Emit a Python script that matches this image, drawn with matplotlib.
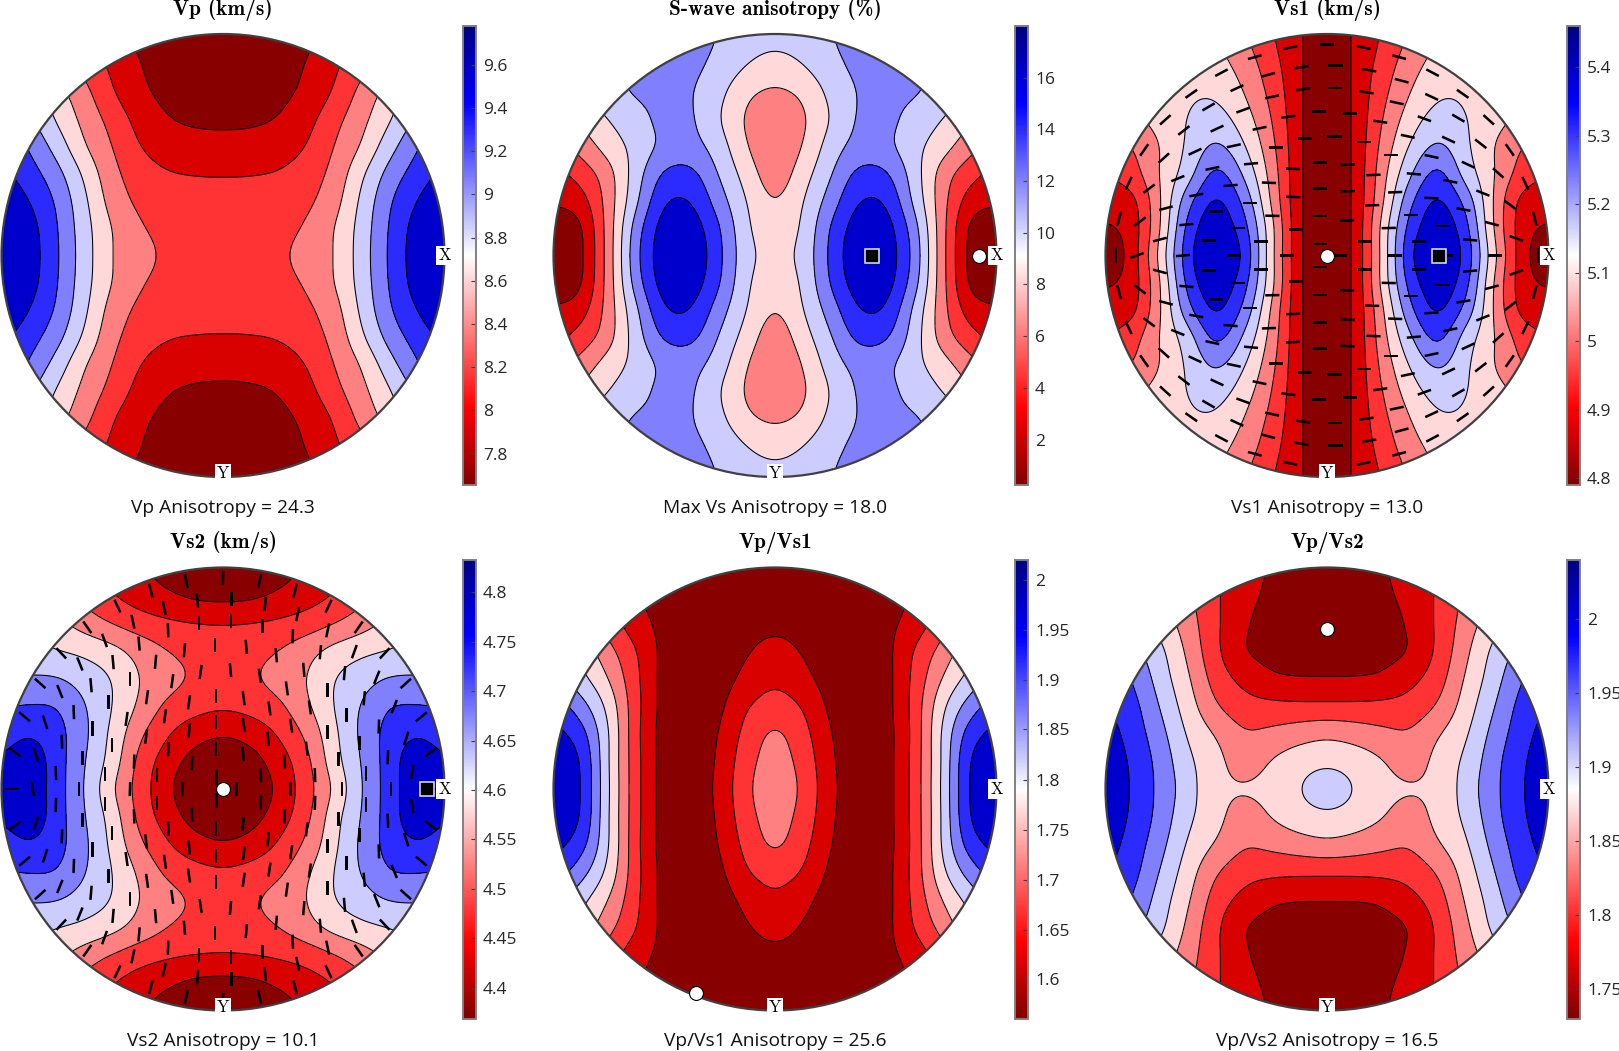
#!/usr/bin/env python3
# Seismic velocity pole figures, six stereonets with colorbars

import matplotlib
matplotlib.use('Agg')
import matplotlib.pyplot as plt
import numpy as np
from matplotlib.cm import ScalarMappable
from matplotlib.colors import LinearSegmentedColormap, Normalize
from matplotlib.patches import Circle

titles = ['Vp (km/s)', 'S-wave anisotropy (%)', 'Vs1 (km/s)',
          'Vs2 (km/s)', 'Vp/Vs1', 'Vp/Vs2']
notes = ['Vp Anisotropy = 24.3', 'Max Vs Anisotropy = 18.0', 'Vs1 Anisotropy = 13.0',
         'Vs2 Anisotropy = 10.1', 'Vp/Vs1 Anisotropy = 25.6', 'Vp/Vs2 Anisotropy = 16.5']

vmin = [7.655, 0.24, 4.79, 4.369, 1.561, 1.73]
vmax = [9.78, 18.0, 5.46, 4.833, 2.02, 2.04]
cbar_ticks = [[7.8, 8, 8.2, 8.4, 8.6, 8.8, 9, 9.2, 9.4, 9.6],
              [2, 4, 6, 8, 10, 12, 14, 16],
              [4.8, 4.9, 5, 5.1, 5.2, 5.3, 5.4],
              [4.4, 4.45, 4.5, 4.55, 4.6, 4.65, 4.7, 4.75, 4.8],
              [1.6, 1.65, 1.7, 1.75, 1.8, 1.85, 1.9, 1.95, 2],
              [1.75, 1.8, 1.85, 1.9, 1.95, 2]]

# markers (x, y in units of the net radius)
min_marks = [None, (0.92, 0), (0, 0), (0, 0), (-0.355, -0.92), (0, 0.724)]
max_marks = [None, (0.436, 0), (0.506, 0), (0.919, 0), None, None]

# fields for one quadrant, rows y=0..1, columns x=0..1 in steps of 1/8
# read as a position in the contour bands: 0 is the colorbar bottom, 9 its top
vp = [[2.70, 2.73, 2.85, 3.30, 4.00, 5.47, 7.12, 8.50, 9.20],
      [2.60, 2.63, 2.75, 3.10, 3.97, 5.40, 7.06, 8.40, 9.10],
      [2.35, 2.38, 2.50, 2.80, 3.60, 5.20, 6.85, 8.00, 8.80],
      [1.95, 1.97, 2.08, 2.50, 3.30, 4.80, 6.35, 7.45, 8.20],
      [1.35, 1.38, 1.50, 2.03, 3.00, 4.10, 5.60, 6.90, 7.80],
      [0.80, 0.85, 1.07, 1.65, 2.65, 3.70, 4.90, 6.20, 7.20],
      [0.35, 0.40, 0.72, 1.25, 2.10, 3.30, 4.40, 5.60, 6.50],
      [0.10, 0.15, 0.45, 1.05, 1.80, 2.70, 3.60, 4.60, 5.50],
      [0.00, 0.05, 0.30, 0.80, 1.50, 2.30, 3.10, 4.00, 4.80]]
avs = [[4.70, 5.30, 7.20, 8.75, 8.60, 6.75, 3.50, 0.80, 0.00],
       [4.40, 5.15, 7.05, 8.50, 8.45, 6.50, 3.50, 0.90, 0.10],
       [4.00, 4.95, 6.45, 7.95, 7.90, 5.85, 3.50, 1.60, 1.20],
       [3.45, 4.55, 5.90, 7.25, 7.15, 5.55, 3.65, 2.40, 1.70],
       [3.15, 4.05, 5.45, 6.35, 6.25, 5.35, 4.45, 3.40, 2.50],
       [3.20, 3.85, 5.05, 6.10, 6.25, 5.65, 5.02, 4.20, 3.40],
       [3.85, 4.20, 5.25, 6.05, 6.20, 6.10, 5.60, 5.00, 4.20],
       [4.55, 4.97, 5.70, 6.20, 6.30, 6.20, 5.90, 5.40, 4.80],
       [5.30, 5.50, 5.95, 6.30, 6.35, 6.30, 6.00, 5.70, 5.20]]
vs1 = [[0.00, 1.20, 4.30, 7.80, 9.00, 7.70, 4.40, 1.55, 0.20],
       [0.00, 1.20, 4.30, 7.40, 8.65, 7.40, 4.05, 1.55, 0.85],
       [0.00, 1.20, 3.85, 6.75, 8.15, 6.70, 4.00, 1.75, 1.50],
       [0.00, 1.20, 3.60, 5.85, 7.30, 5.60, 4.10, 2.60, 2.00],
       [0.00, 1.20, 3.30, 5.10, 6.20, 5.20, 4.05, 3.05, 2.50],
       [0.00, 1.20, 3.00, 4.50, 5.40, 5.05, 4.35, 3.80, 3.30],
       [0.00, 1.20, 2.70, 4.00, 4.85, 4.85, 4.40, 4.00, 3.60],
       [0.00, 1.20, 2.40, 3.60, 4.35, 4.55, 4.35, 4.00, 3.70],
       [0.00, 1.20, 2.10, 3.20, 4.10, 4.30, 4.20, 4.00, 3.70]]
vs2 = [[0.00, 0.30, 1.20, 2.55, 4.15, 5.95, 7.45, 8.75, 8.80],
       [0.30, 0.62, 1.50, 2.70, 4.55, 6.05, 7.45, 8.65, 8.15],
       [1.10, 1.40, 2.10, 3.20, 4.75, 6.20, 7.35, 7.90, 7.50],
       [2.15, 2.35, 2.80, 3.80, 5.00, 6.05, 6.95, 7.05, 6.95],
       [2.55, 2.85, 3.35, 3.98, 4.95, 5.55, 6.05, 6.10, 6.00],
       [2.45, 2.65, 3.00, 3.60, 4.30, 4.75, 5.02, 5.30, 5.40],
       [1.95, 2.00, 2.15, 2.45, 2.95, 3.55, 4.25, 4.80, 5.00],
       [0.70, 0.80, 1.15, 1.55, 2.05, 2.70, 3.40, 4.00, 4.40],
       [0.20, 0.30, 0.60, 1.15, 1.70, 2.30, 2.90, 3.50, 4.00]]
vpvs1 = [[3.60, 2.80, 1.30, 0.35, 0.60, 2.30, 5.05, 8.00, 9.00],
         [3.40, 2.65, 1.20, 0.33, 0.60, 2.30, 5.00, 7.95, 8.80],
         [3.15, 2.35, 1.05, 0.30, 0.60, 2.25, 5.00, 7.40, 8.30],
         [2.40, 1.93, 0.80, 0.25, 0.65, 2.30, 4.65, 6.40, 7.50],
         [1.80, 1.30, 0.55, 0.20, 0.65, 2.20, 3.95, 5.30, 6.30],
         [1.30, 0.92, 0.40, 0.15, 0.70, 2.00, 3.30, 4.60, 5.40],
         [0.75, 0.60, 0.25, 0.10, 0.70, 1.40, 2.50, 3.70, 4.60],
         [0.30, 0.25, 0.15, 0.10, 0.50, 1.10, 2.00, 3.00, 3.90],
         [0.10, 0.10, 0.10, 0.10, 0.40, 0.90, 1.60, 2.50, 3.30]]
vpvs2 = [[5.45, 4.97, 4.30, 4.08, 4.25, 5.40, 6.70, 7.85, 8.80],
         [4.80, 4.55, 4.05, 3.55, 4.30, 5.20, 6.60, 7.80, 8.60],
         [3.75, 3.55, 3.25, 3.10, 3.90, 4.85, 6.30, 7.55, 8.40],
         [2.20, 2.20, 2.25, 2.40, 3.10, 4.45, 5.90, 7.30, 8.00],
         [1.03, 1.03, 1.15, 1.70, 2.55, 4.10, 5.50, 6.90, 7.70],
         [0.50, 0.55, 0.70, 1.05, 2.20, 3.75, 5.20, 6.30, 7.20],
         [0.10, 0.15, 0.40, 1.20, 2.15, 3.45, 4.60, 5.70, 6.60],
         [0.30, 0.35, 0.70, 1.45, 2.10, 3.20, 4.20, 5.20, 6.00],
         [0.50, 0.55, 0.90, 1.50, 2.10, 3.00, 3.90, 4.80, 5.60]]
fields = [vp, avs, vs1, vs2, vpvs1, vpvs2]
# the top row was read with a slightly different radius
row_scale = [0.98, 0.98, 0.98, 1.0, 1.0, 1.0]

# polarisation ticks sit on rings of the net
ring_radius = [.06, .182, .305, .42, .538, .65, .758, .858, .953]
ring_count = [3, 9, 15, 21, 25, 29, 33, 35, 36]
ring_shift = [0, .5, 0, .5, 0, .5, 0, .5, 0]

# tick directions read in the upper right quadrant, degrees from +x
tick_x = [0, .163, .324, .476, .611, .73, .825, .896, .938, .953,
          .038, .19, .336, .471, .592, .693, .773, .825, .855,
          .035, .178, .313, .438, .547, .637, .702, .742, .758,
          0, .102, .238, .364, .471, .554, .617, .648,
          .03, .166, .288, .389, .47, .521, .509,
          0, .092, .21, .31, .381, .419,
          0, .092, .203, .276, .301,
          0, .09, .17,
          0, .057]
tick_y = [.955, .94, .896, .825, .73, .613, .477, .327, .169, 0,
          .858, .839, .79, .718, .623, .506, .372, .229, .075,
          .759, .738, .691, .619, .526, .41, .282, .143, 0,
          .65, .643, .605, .541, .449, .339, .209, .071,
          .539, .514, .458, .364, .259, .134, 0,
          .423, .414, .367, .289, .184, .063,
          .304, .291, .227, .123, 0,
          .182, .16, .063,
          .053, 0]
tick_vs1 = [0, -12, -15, -28, -35, -42, -55, -65, -75, 90,
            0, -10, -15, -25, -30, -38, -42, -37, -20,
            0, -8, -12, -20, -25, -25, -22, -15, 0,
            0, 0, -8, -12, -12, -12, -10, -5,
            0, 0, 0, -5, -3, 0, 0,
            0, 3, 2, 2, 0, 0,
            0, 2, 2, 1, 0,
            0, 2, 0,
            0, 0]
tick_vs2 = [88, 78, 75, 65, 55, 47, 42, 40, 38, 0,
            90, 85, 78, 78, 70, 68, 68, 72, 82,
            90, 90, 88, 85, 85, 85, 88, 88, 90,
            90, 95, 95, 95, 90, 90, 90, 90,
            95, 98, 98, 98, 90, 90, 90,
            90, 98, 98, 98, 97, 92,
            90, 98, 95, 92, 90,
            90, 95, 92,
            90, 90]
tick_angles = [None, None, tick_vs1, tick_vs2, None, None]

band_colors = ['#880000', '#d90000', '#ff3333', '#ff8080', '#ffd9d9',
               '#ccccff', '#8080ff', '#2b2bff', '#0000cc']
cbar_cmap = LinearSegmentedColormap.from_list(
    'blue2red', [(0, '#800000'), (.167, '#ff0000'), (.5, '#ffffff'),
                 (.833, '#0000ff'), (1, '#000080')])

W, H = 1619, 1051
centers_x = [223, 775, 1327]
centers_y = [255.5, 789]
RAD = 221.5


def smooth(values, t):
    # Catmull-Rom along the first axis, only to round off the contour lines
    n = values.shape[0]
    pos = (np.clip(t, -1, 1) + 1) / 2 * (n - 1)
    i = np.clip(np.floor(pos).astype(int), 0, n - 2)
    f = (pos - i).reshape((-1,) + (1,) * (values.ndim - 1))
    p0 = values[np.clip(i - 1, 0, n - 1)]
    p1 = values[i]
    p2 = values[i + 1]
    p3 = values[np.clip(i + 2, 0, n - 1)]
    return 0.5 * (2 * p1 + (p2 - p0) * f + (2 * p0 - 5 * p1 + 4 * p2 - p3) * f ** 2
                  + (3 * p1 - p0 - 3 * p2 + p3) * f ** 3)


def blur(z, sigma):
    k = np.arange(-3 * sigma, 3 * sigma + 1)
    kernel = np.exp(-0.5 * (k / sigma) ** 2)
    kernel /= kernel.sum()
    z = np.pad(z, 3 * sigma, mode='edge')
    z = np.apply_along_axis(np.convolve, 0, z, kernel, mode='same')
    z = np.apply_along_axis(np.convolve, 1, z, kernel, mode='same')
    return z[3 * sigma:-3 * sigma, 3 * sigma:-3 * sigma]


def full_field(q, yscale):
    q = np.array(q, dtype=float)
    q = np.hstack([q[:, :0:-1], q])
    q = np.vstack([q[:0:-1], q])
    t = np.linspace(-1.03, 1.03, 619)
    z = smooth(smooth(q, t / yscale).T, t).T
    return t, t, blur(z, 9)


def tick_field(angles):
    # ring positions, each taking the direction read nearest to it (mirrored)
    xs, ys, dirs = [], [], []
    for r, count, shift in zip(ring_radius, ring_count, ring_shift):
        az = (np.arange(count) + shift) * 2 * np.pi / count
        for px, py in zip(r * np.cos(az), r * np.sin(az)):
            d = (np.array(tick_x) - abs(px)) ** 2 + (np.array(tick_y) - abs(py)) ** 2
            a = angles[int(np.argmin(d))]
            if px * py < 0:
                a = -a
            xs.append(px)
            ys.append(py)
            dirs.append(np.radians(a))
    return np.array(xs), np.array(ys), np.array(dirs)


def box(x0, y0, x1, y1):
    # pixel box, y from the top, to figure fractions
    return [x0 / W, 1 - y1 / H, (x1 - x0) / W, (y1 - y0) / H]


plt.rcParams['font.family'] = ['Open Sans', 'DejaVu Sans']
fig = plt.figure(figsize=(W / 100, H / 100), dpi=100)

for n in range(6):
    col = n % 3
    row = n // 3
    cx = centers_x[col]
    cy = centers_y[row]
    ax = fig.add_axes(box(cx - RAD - 4, cy - RAD - 4, cx + RAD + 4, cy + RAD + 4))
    lim = (RAD + 4) / RAD
    ax.set_xlim(-lim, lim)
    ax.set_ylim(-lim, lim)
    ax.axis('off')

    x, y, z = full_field(fields[n], row_scale[n])
    step = (vmax[n] - vmin[n]) / 9
    levels = vmin[n] + step * np.arange(10)
    z = np.clip(vmin[n] + step * z, vmin[n], vmax[n])

    rim = Circle((0, 0), 1, transform=ax.transData, fill=False, ec='#404040', lw=1.6, zorder=5)
    ax.add_patch(rim)
    filled = ax.contourf(x, y, z, levels=levels, colors=band_colors, zorder=1)
    filled.set_clip_path(rim)
    lines = ax.contour(x, y, z, levels=levels[1:-1], colors='k', linewidths=0.75, zorder=2)
    lines.set_clip_path(rim)

    if tick_angles[n] is not None:
        tx, ty, ang = tick_field(tick_angles[n])
        ax.quiver(tx, ty, np.cos(ang), np.sin(ang),
                  angles='xy', scale_units='xy', scale=1 / 0.064, pivot='mid',
                  headwidth=0, headlength=0, headaxislength=0,
                  width=0.0056, color='k', zorder=3)

    if max_marks[n] is not None:
        ax.plot(*max_marks[n], 's', ms=9.5, mfc='k', mec='#e8e8f0', mew=1.1, zorder=6)
    if min_marks[n] is not None:
        ax.plot(*min_marks[n], 'o', ms=10, mfc='w', mec='k', mew=0.8, zorder=6)

    ax.text(1.0, 0.0, 'X', family='cmr10', fontsize=12, ha='center', va='center', zorder=7,
            bbox=dict(fc='w', ec='none', pad=1.5), clip_on=False)
    ax.text(0.0, -0.985, 'Y', family='cmr10', fontsize=12, ha='center', va='center', zorder=7,
            bbox=dict(fc='w', ec='none', pad=1.5), clip_on=False)

    fig.text(cx / W, 1 - (cy - 246) / H, titles[n], family='cmb10', fontsize=15.3,
             ha='center', va='center')
    fig.text(cx / W, 1 - (cy + 252.5) / H, notes[n], fontsize=13.8, color='#111111',
             ha='center', va='center')

    cax = fig.add_axes(box(cx + 239.5, cy - 229.5, cx + 253, cy + 229.5))
    cb = fig.colorbar(ScalarMappable(Normalize(vmin[n], vmax[n]), cbar_cmap), cax=cax)
    cb.set_ticks(cbar_ticks[n])
    cb.set_ticklabels(['%g' % v for v in cbar_ticks[n]])
    cb.outline.set_edgecolor('#808080')
    cb.outline.set_linewidth(1.4)
    cax.tick_params(direction='in', length=3.5, width=0.8, color='#404040',
                    labelsize=12.5, labelcolor='#262626', pad=5)

plt.savefig('out.png', dpi=100)
